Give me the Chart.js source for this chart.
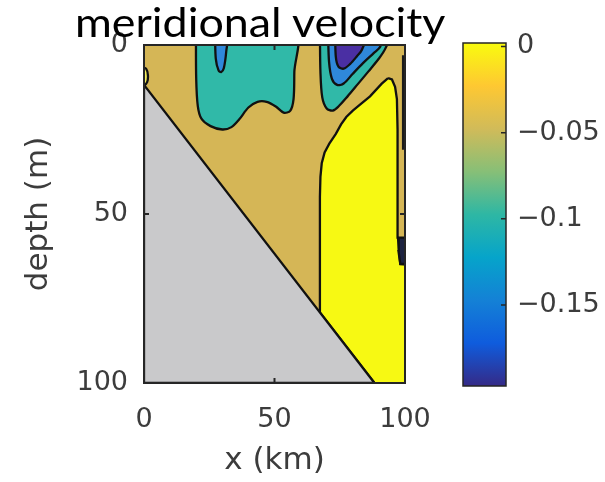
<!doctype html>
<html>

<head>
    <meta charset="utf-8">
    <title>meridional velocity</title>
    <script src="https://cdn.jsdelivr.net/npm/chart.js"></script>
    <style>
        html, body { margin: 0; padding: 0; background: #fff; }
        #wrap { position: relative; width: 605px; height: 482px; overflow: hidden; }
        #section { position: absolute; left: 0; top: 0; }
        #bar { position: absolute; left: 440px; top: 0; }
        #title {
            position: absolute; left: 75px; top: 2px;
            font-family: Lato, sans-serif; font-size: 40px; line-height: 1;
            color: #000; white-space: nowrap;
            transform: scaleX(1.12); transform-origin: left top;
        }
    </style>
</head>

<body>
    <div id="wrap">
        <canvas id="section" width="605" height="482"></canvas>
        <canvas id="bar" width="165" height="482"></canvas>
        <div id="title">meridional velocity</div>
    </div>

    <script>
        // axes
        const xTicks = [0, 50, 100];
        const depthTicks = [0, 50, 100];
        const levelTicks = [0, -0.05, -0.1, -0.15];
        const levelRange = [-0.197, 0.002];

        // filled contour patches, points are [x (km), depth (m)]
        const background = [[0, 0], [100, 0], [100, 100], [0, 100]];
        const seabed = [[0, 11.8], [88.3, 100], [0, 100]];
        const westBand = [[19.9, -4], [20, 10], [20.6, 18], [22, 21.8], [25.5, 24], [30, 25], [33.5, 24.3], [36.5, 22],
            [40, 18.5], [43.5, 16.8], [47, 16.8], [50.5, 18.2], [53.5, 20], [56, 19.5], [57.3, 16], [57.6, 8], [57.9, -4]];
        const westCore = [[27.2, -4], [27.5, 4], [28.6, 7.6], [29.6, 8], [30.6, 6.8], [31.5, 2], [31.9, -4]];
        const eastBand = [[67.4, -4], [67.6, 8], [68.3, 15.5], [70, 18.8], [72.3, 19.4], [74.5, 18.2], [78, 15.2],
            [82, 11.5], [86, 7.8], [90, 4], [92.5, 1], [94.5, -4]];
        const eastCore = [[70.5, -4], [70.9, 5], [72, 10], [74, 11.8], [76.5, 11.4], [80, 8.5], [84, 5.3], [88, 2.4],
            [90.5, 0.5], [91.6, -4]];
        const eastMax = [[73.2, -4], [73.5, 3.5], [74.5, 6.4], [76.5, 7], [79, 5.6], [81.5, 3.4], [83.5, 1.4], [85.4, -4]];
        const shelfFlow = [[93.5, 9.8], [91, 11.5], [86.6, 15.2], [83, 17.5], [80, 19.4], [77.5, 21.3], [75.5, 23.5],
            [73.5, 26.3], [71, 29.2], [69.2, 31.8], [68.1, 35], [67.6, 39], [67.4, 45], [67.4, 79.1], [88.3, 100],
            [101, 101], [101, 65], [98.2, 64.8], [97.3, 57], [97.2, 45], [97.1, 25], [96.9, 16], [96.2, 12.4], [95, 10.2]];
        const cornerEddy = [[-1, 6.5], [0.8, 7], [1.5, 9], [1.2, 11], [0, 12], [-1, 12]];
        const wallPatch = [[97.6, 57], [101, 57], [101, 64.8], [98.2, 64.8], [97.5, 61]];
        const wallLine = [[99.4, 3], [99.4, 31]];

        // parula colour map, bottom to top
        const parula = ['#352a87', '#0f5cdd', '#1481d6', '#06a4ca', '#2eb7a4', '#87bf77', '#d1bb59', '#fec832', '#f9fb0e'];

        const axisFont = { family: 'DejaVu Sans', size: 27 };
        const titleFont = { family: 'DejaVu Sans', size: 31 };
        const textColor = '#3c3c3c';

        function patch(points, color, order, tension, line) {
            const data = points.map(p => ({ x: p[0], y: p[1] }));
            data.push({ x: points[0][0], y: points[0][1] });
            return {
                data: data,
                showLine: true,
                fill: 'shape',
                backgroundColor: color,
                borderColor: line === 0 ? 'rgba(0,0,0,0)' : '#111',
                borderWidth: line === undefined ? 2.3 : line,
                pointRadius: 0,
                tension: tension,
                order: order
            };
        }

        // box and inward tick marks
        const frame = {
            id: 'frame',
            afterDatasetsDraw(chart, args, opts) {
                const { ctx, chartArea: a, scales } = chart;
                ctx.save();
                ctx.strokeStyle = opts.color;
                ctx.lineWidth = opts.width;
                ctx.strokeRect(a.left, a.top, a.right - a.left, a.bottom - a.top);
                ctx.beginPath();
                const len = opts.tick;
                if (opts.xTicks) {
                    scales.x.ticks.forEach(t => {
                        const px = scales.x.getPixelForValue(t.value);
                        ctx.moveTo(px, a.bottom); ctx.lineTo(px, a.bottom - len);
                        ctx.moveTo(px, a.top); ctx.lineTo(px, a.top + len);
                    });
                }
                scales.y.ticks.forEach(t => {
                    const py = scales.y.getPixelForValue(t.value);
                    if (opts.leftTicks) { ctx.moveTo(a.left, py); ctx.lineTo(a.left + len, py); }
                    ctx.moveTo(a.right, py); ctx.lineTo(a.right - len, py);
                });
                ctx.stroke();
                ctx.restore();
            }
        };

        new Chart(document.getElementById('section'), {
            type: 'scatter',
            data: {
                datasets: [
                    patch(background, '#d5b656', 20, 0, 0),
                    patch(shelfFlow, '#f7f913', 15, 0),
                    patch(cornerEddy, '#f4ee5a', 15, 0.3),
                    patch(westBand, '#30b9a8', 12, 0.3),
                    patch(eastBand, '#30b9a8', 12, 0.3),
                    patch(westCore, '#2f88da', 10, 0.3),
                    patch(eastCore, '#2f88da', 10, 0.3),
                    patch(eastMax, '#4a2fa3', 8, 0.3),
                    patch(wallPatch, '#1d2340', 8, 0),
                    {
                        data: wallLine.map(p => ({ x: p[0], y: p[1] })),
                        showLine: true, borderColor: '#1a1a1a', borderWidth: 3, pointRadius: 0, order: 7
                    },
                    patch(seabed, '#c9c9cb', 1, 0)
                ]
            },
            options: {
                responsive: false,
                animation: false,
                layout: { padding: { left: 0, top: 45, right: 200, bottom: 0 } },
                scales: {
                    x: {
                        type: 'linear', min: 0, max: 100, position: 'bottom',
                        afterBuildTicks: s => { s.ticks = xTicks.map(v => ({ value: v })); },
                        afterFit: s => { s.height = 99; s.paddingLeft = 0; s.paddingRight = 0; },
                        ticks: { font: axisFont, color: textColor, padding: 21, maxRotation: 0 },
                        grid: { display: false, drawTicks: false },
                        border: { display: false },
                        title: { display: true, text: 'x (km)', font: titleFont, color: textColor, padding: { top: 0, bottom: 2 } }
                    },
                    y: {
                        type: 'linear', min: 0, max: 100, reverse: true,
                        afterBuildTicks: s => { s.ticks = depthTicks.map(v => ({ value: v })); },
                        afterFit: s => { s.width = 144; s.paddingTop = 0; s.paddingBottom = 0; },
                        ticks: { font: axisFont, color: textColor, padding: 16 },
                        grid: { display: false, drawTicks: false },
                        border: { display: false },
                        title: { display: true, text: 'depth (m)', font: titleFont, color: textColor, padding: { top: 20, bottom: 0 } }
                    }
                },
                plugins: {
                    legend: { display: false },
                    tooltip: { enabled: false },
                    frame: { color: '#262626', width: 2, tick: 5, xTicks: true, leftTicks: true }
                }
            },
            plugins: [frame]
        });

        // colour bar
        function parulaFill(chart) {
            const a = chart.chartArea;
            if (!a) return parula[0];
            const g = chart.ctx.createLinearGradient(0, a.bottom, 0, a.top);
            parula.forEach((c, i) => g.addColorStop(i / (parula.length - 1), c));
            return g;
        }

        new Chart(document.getElementById('bar'), {
            type: 'bar',
            data: {
                labels: [''],
                datasets: [{
                    data: [levelRange],
                    backgroundColor: ctx => parulaFill(ctx.chart),
                    borderWidth: 0,
                    barPercentage: 1,
                    categoryPercentage: 1
                }]
            },
            options: {
                responsive: false,
                animation: false,
                layout: { padding: { left: 23, top: 43, right: 0, bottom: 96 } },
                scales: {
                    x: { display: false },
                    y: {
                        position: 'right', min: levelRange[0], max: levelRange[1],
                        afterBuildTicks: s => { s.ticks = levelTicks.map(v => ({ value: v })); },
                        afterFit: s => { s.width = 99; s.paddingTop = 0; s.paddingBottom = 0; },
                        ticks: {
                            font: axisFont, color: textColor, padding: 11,
                            callback: v => v === 0 ? '0' : '\u2212' + Math.abs(v)
                        },
                        grid: { display: false, drawTicks: false },
                        border: { display: false }
                    }
                },
                plugins: {
                    legend: { display: false },
                    tooltip: { enabled: false },
                    frame: { color: '#262626', width: 1.5, tick: 5, xTicks: false, leftTicks: false }
                }
            },
            plugins: [frame]
        });
    </script>
</body>

</html>
